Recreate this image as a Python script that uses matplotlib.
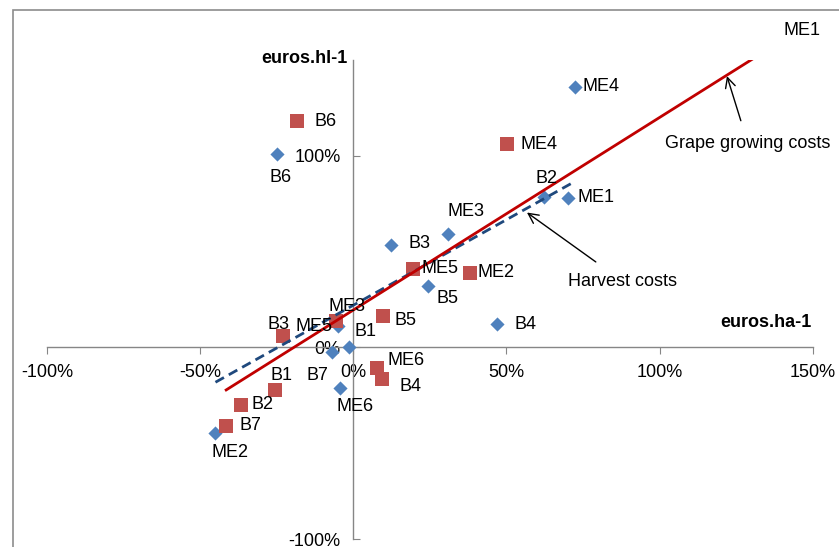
import numpy as np
import matplotlib
matplotlib.use("Agg")
import matplotlib.pyplot as plt
from matplotlib.patches import Rectangle

plt.rcParams["font.family"] = ["Liberation Sans", "DejaVu Sans"]

# Etiquetas de los puntos
blue_labels = ["ME4", "B6", "ME1", "B2", "ME3", "B3", "B5", "B4", "ME5", "B1", "B7", "ME6", "ME2"]
blue_x = [0.725, -0.248, 0.70, 0.624, 0.31, 0.124, 0.245, 0.47, -0.05, -0.013, -0.07, -0.042, -0.45]
blue_y = [1.36, 1.01, 0.78, 0.785, 0.59, 0.535, 0.32, 0.12, 0.11, 0.0, -0.025, -0.21, -0.445]

red_labels = ["B6", "ME4", "ME5", "ME2", "B5", "ME3", "B3", "B1", "B2", "B7", "ME6", "B4", "ME1"]
red_x = [-0.183, 0.503, 0.196, 0.382, 0.098, -0.056, -0.23, -0.255, -0.366, -0.415, 0.078, 0.095, 1.36]
red_y = [1.18, 1.06, 0.41, 0.39, 0.165, 0.14, 0.06, -0.22, -0.30, -0.41, -0.11, -0.165, 1.66]

# Lineas de tendencia (pendiente, ordenada)
blue_fit = [0.893, 0.22]
red_fit = [1.005, 0.195]

x_ticks = [-1.0, -0.5, 0.0, 0.5, 1.0, 1.5]
x_tick_labels = ["-100%", "-50%", "0%", "50%", "100%", "150%"]
y_ticks = [-1.0, 0.0, 1.0]
y_tick_labels = ["-100%", "0%", "100%"]

# desplazamiento de etiquetas en pixeles (dx, dy hacia abajo)
blue_off = {"ME4": (26, 0), "B6": (3, 24), "ME1": (28, 0), "B2": (2, -18), "ME3": (18, -23),
            "B3": (28, -1), "B5": (19, 12), "B4": (28, 0), "ME5": (-24, 0), "B1": (16, -16),
            "B7": (-14, 23), "ME6": (15, 19), "ME2": (15, 20)}
red_off = {"B6": (28, 0), "ME4": (32, 0), "ME5": (27, 0), "ME2": (26, 0), "B5": (22, 5),
           "ME3": (11, -14), "B3": (-4, -11), "B1": (6, -14), "B2": (21, 0), "B7": (24, 0),
           "ME6": (29, -8), "B4": (28, 7), "ME1": (32, 1)}

fs = 13

fig = plt.figure(figsize=(8.39, 5.47), dpi=100)
ax = fig.add_axes([47 / 839, 1 - 539 / 547, (812.7 - 47) / 839, (539 - 60) / 547])
ax.set_xlim(-1, 1.5)
ax.set_ylim(-1, 1.5)

ax.scatter(blue_x, blue_y, marker="D", s=52, color="#4F81BD", zorder=3, linewidths=0)
ax.scatter(red_x, red_y, marker="s", s=100, color="#C0504D", zorder=3, linewidths=0)

# lineas de tendencia
bx = np.array([min(blue_x), max(blue_x)])
ax.plot(bx, blue_fit[0] * bx + blue_fit[1], color="#1F497D", lw=2.0, ls=(0, (3.5, 2)), zorder=4)
rx = np.array([min(red_x), max(red_x)])
ax.plot(rx, red_fit[0] * rx + red_fit[1], color="#C00000", lw=2.0, zorder=4)

for lab, x, y in zip(blue_labels, blue_x, blue_y):
    dx, dy = blue_off[lab]
    ax.annotate(lab, (x, y), xytext=(dx, -dy), textcoords="offset pixels",
                ha="center", va="center", fontsize=fs, zorder=5)
for lab, x, y in zip(red_labels, red_x, red_y):
    dx, dy = red_off[lab]
    ax.annotate(lab, (x, y), xytext=(dx, -dy), textcoords="offset pixels",
                ha="center", va="center", fontsize=fs, zorder=5, annotation_clip=False)

# ejes cruzados en el origen
for s in ["top", "right"]:
    ax.spines[s].set_visible(False)
ax.spines["left"].set_position(("data", 0))
ax.spines["bottom"].set_position(("data", 0))
for s in ["left", "bottom"]:
    ax.spines[s].set_color("#868686")
    ax.spines[s].set_linewidth(1.0)
ax.set_xticks(x_ticks)
ax.set_xticklabels(x_tick_labels)
ax.set_yticks(y_ticks)
ax.set_yticklabels(y_tick_labels)
ax.tick_params(axis="x", direction="out", length=5, pad=7, color="#868686", labelsize=fs)
ax.tick_params(axis="y", direction="in", length=5, pad=9, color="#868686", labelsize=fs)
ax.patch.set_visible(False)

ax.text(-0.02, 1.51, "euros.hl-1", ha="right", va="center", fontsize=fs, fontweight="bold")
ax.text(1.497, 0.132, "euros.ha-1", ha="right", va="center", fontsize=fs, fontweight="bold")

ax.annotate("Grape growing costs", xy=(1.22, 1.416), xytext=(1.289, 1.062),
            ha="center", va="center", fontsize=fs,
            arrowprops=dict(arrowstyle="->", lw=1, color="black", shrinkA=9, shrinkB=0,
                            mutation_scale=18))
ax.annotate("Harvest costs", xy=(0.567, 0.704), xytext=(0.88, 0.345),
            ha="center", va="center", fontsize=fs,
            arrowprops=dict(arrowstyle="->", lw=1, color="black", shrinkA=10, shrinkB=0,
                            mutation_scale=18))

# marco del area del grafico
fig.add_artist(Rectangle((12.5 / 839, -0.1), 1.2, 1 - 10 / 547 + 0.1, transform=fig.transFigure,
                         fill=False, edgecolor="#8c8c8c", lw=1.2))

fig.savefig("out.png", dpi=100)
